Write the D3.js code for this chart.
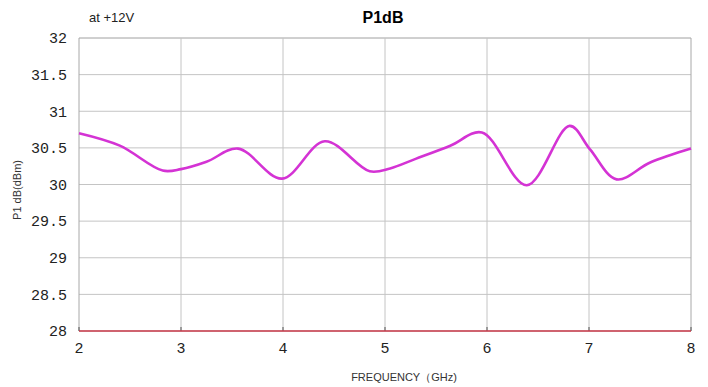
<!DOCTYPE html>
<html lang="en">
<head>
    <meta charset="UTF-8">
    <title>P1dB</title>
    <script src="https://d3js.org/d3.v7.min.js"></script>
    <style>
        body { margin: 0; background: #fff; }
        .ticklab { font-family: "Liberation Mono", monospace; font-size: 15px; fill: #222; }
    </style>
</head>
<body>
    <div id="chart"></div>
    <script>
        // curve (GHz, dBm)
        var freq = [2.0, 2.4, 2.82, 3.0, 3.25, 3.56, 3.99, 4.41, 4.85, 5.05, 5.3, 5.64, 5.95, 6.39, 6.81, 7.01, 7.27, 7.6, 8.0];
        var p1db = [30.70, 30.53, 30.19, 30.21, 30.31, 30.49, 30.08, 30.59, 30.18, 30.22, 30.35, 30.53, 30.71, 29.99, 30.80, 30.48, 30.07, 30.30, 30.49];
        var xTicks = [2, 3, 4, 5, 6, 7, 8];
        var yTicks = [28, 28.5, 29, 29.5, 30, 30.5, 31, 31.5, 32];

        var data = freq.map((f, i) => ({ f: f, v: p1db[i] }));

        var margin = { top: 38, right: 17, bottom: 56, left: 79 },
            W = 708, H = 387,
            width = W - margin.left - margin.right,
            height = H - margin.top - margin.bottom;

        var svg = d3.select("#chart").append("svg")
            .attr("width", W).attr("height", H);
        var g = svg.append("g")
            .attr("transform", "translate(" + margin.left + "," + margin.top + ")");

        var x = d3.scaleLinear().domain([2, 8]).range([0, width]);
        var y = d3.scaleLinear().domain([28, 32]).range([height, 0]);

        // grid
        g.selectAll(".hg").data(yTicks).enter().append("line")
            .attr("x1", 0).attr("x2", width)
            .attr("y1", d => y(d)).attr("y2", d => y(d))
            .attr("stroke", d => d === 32 ? "#a0a0a0" : "#c4c4c4").attr("stroke-width", 1);
        g.selectAll(".vg").data(xTicks).enter().append("line")
            .attr("x1", d => x(d)).attr("x2", d => x(d))
            .attr("y1", 0).attr("y2", height)
            .attr("stroke", d => (d === 8 || d === 2) ? "#a8a8a8" : "#c4c4c4").attr("stroke-width", 1);

        // small ticks on the bottom axis
        g.selectAll(".tk").data(xTicks).enter().append("line")
            .attr("x1", d => x(d)).attr("x2", d => x(d))
            .attr("y1", height - 4).attr("y2", height)
            .attr("stroke", "#555");

        // bottom axis line
        g.append("line")
            .attr("x1", 0).attr("x2", width)
            .attr("y1", height).attr("y2", height)
            .attr("stroke", "#c83848").attr("stroke-width", 1.5);

        // tick labels
        g.selectAll(".yl").data(yTicks).enter().append("text")
            .attr("class", "ticklab")
            .attr("x", -12).attr("y", d => y(d))
            .attr("dy", "0.35em").attr("text-anchor", "end")
            .text(d => d);
        g.selectAll(".xl").data(xTicks).enter().append("text")
            .attr("class", "ticklab")
            .attr("x", d => x(d)).attr("y", height + 22)
            .attr("text-anchor", "middle")
            .text(d => d);

        // curve
        var line = d3.line()
            .x(d => x(d.f))
            .y(d => y(d.v))
            .curve(d3.curveCatmullRom.alpha(0.5));
        g.append("path")
            .datum(data)
            .attr("fill", "none")
            .attr("stroke", "#d433d4")
            .attr("stroke-width", 2.6)
            .attr("d", line);

        // titles
        svg.append("text")
            .attr("x", 383).attr("y", 23)
            .attr("text-anchor", "middle")
            .style("font-family", "Liberation Sans, Arial, sans-serif")
            .style("font-size", "16px").style("font-weight", "bold")
            .text("P1dB");
        svg.append("text")
            .attr("x", 89).attr("y", 22)
            .style("font-family", "Liberation Sans, Arial, sans-serif")
            .style("font-size", "13px").attr("fill", "#222")
            .text("at +12V");
        svg.append("text")
            .attr("transform", "translate(21,190) rotate(-90)")
            .attr("text-anchor", "middle")
            .style("font-family", "Liberation Sans, Arial, sans-serif")
            .style("font-size", "11px").attr("fill", "#333")
            .text("P1 dB(dBm)");
        svg.append("text")
            .attr("x", 404).attr("y", 381)
            .attr("text-anchor", "middle")
            .style("font-family", "Liberation Sans, Arial, sans-serif")
            .style("font-size", "11px").attr("fill", "#333")
            .text("FREQUENCY（GHz)");
    </script>
</body>
</html>
